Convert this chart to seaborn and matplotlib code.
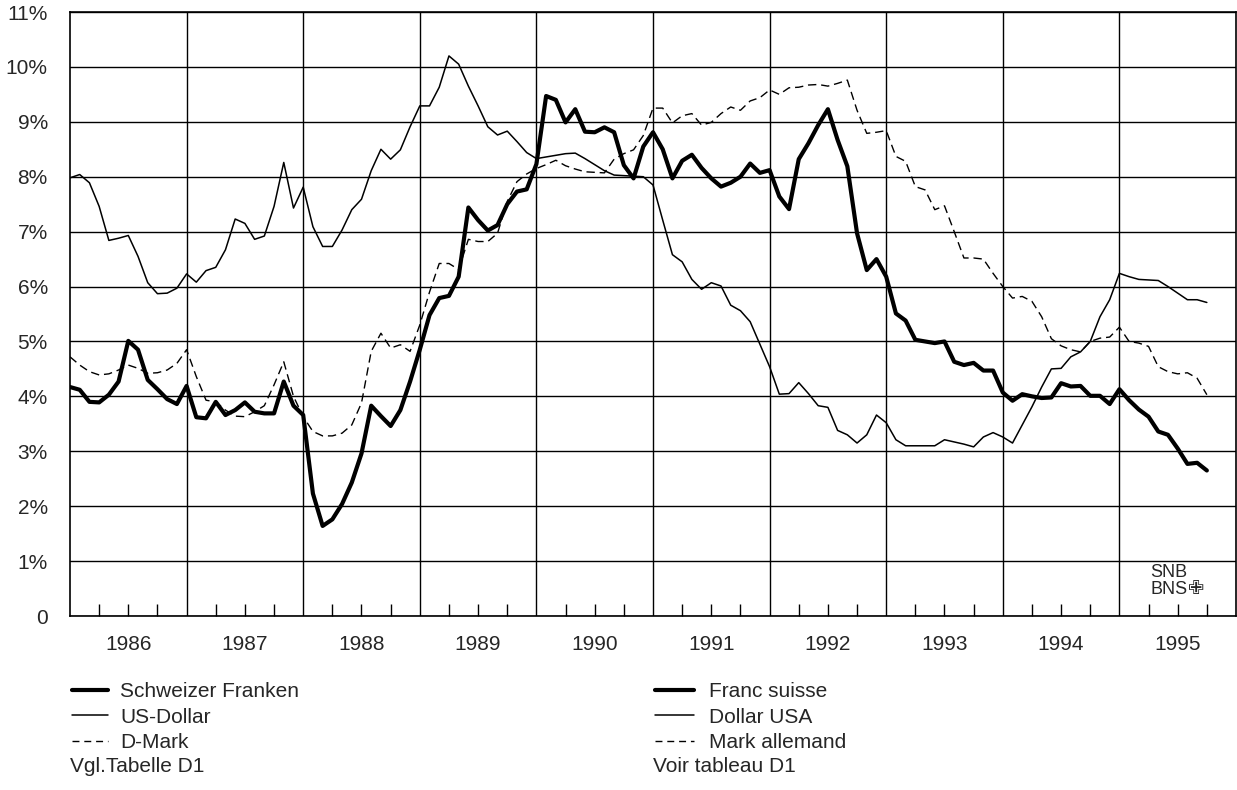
import numpy as np
import pandas as pd
import matplotlib
matplotlib.use("Agg")
import matplotlib.pyplot as plt
from matplotlib.lines import Line2D
import seaborn as sns

# monthly values, Jan 1986 .. Oct 1995 (percent)
start_year = 1986
chf = [4.17, 4.12, 3.90, 3.89, 4.03, 4.27, 5.01, 4.85, 4.30, 4.13, 3.95, 3.86,
       4.19, 3.62, 3.60, 3.90, 3.66, 3.75, 3.89, 3.72, 3.69, 3.69, 4.27, 3.83,
       3.66, 2.23, 1.64, 1.76, 2.04, 2.43, 2.96, 3.83, 3.64, 3.46, 3.75, 4.27,
       4.85, 5.48, 5.79, 5.83, 6.18, 7.44, 7.21, 7.02, 7.12, 7.50, 7.73, 7.77,
       8.23, 9.47, 9.40, 8.99, 9.23, 8.82, 8.81, 8.90, 8.81, 8.21, 7.97, 8.55,
       8.81, 8.50, 7.97, 8.29, 8.40, 8.16, 7.97, 7.82, 7.89, 8.00, 8.24, 8.07,
       8.12, 7.64, 7.41, 8.32, 8.61, 8.94, 9.23, 8.67, 8.19, 6.97, 6.30, 6.50,
       6.18, 5.51, 5.38, 5.03, 5.00, 4.97, 5.00, 4.63, 4.57, 4.61, 4.47, 4.47,
       4.07, 3.92, 4.04, 4.00, 3.97, 3.98, 4.24, 4.18, 4.19, 4.01, 4.01, 3.86,
       4.13, 3.93, 3.76, 3.63, 3.36, 3.30, 3.05, 2.77, 2.79, 2.65]
usd = [7.98, 8.04, 7.89, 7.46, 6.84, 6.88, 6.93, 6.55, 6.07, 5.87, 5.88, 5.97,
       6.23, 6.08, 6.29, 6.35, 6.67, 7.23, 7.15, 6.86, 6.92, 7.46, 8.26, 7.43,
       7.81, 7.09, 6.73, 6.73, 7.03, 7.40, 7.59, 8.11, 8.50, 8.32, 8.49, 8.91,
       9.29, 9.29, 9.63, 10.20, 10.05, 9.65, 9.29, 8.91, 8.76, 8.83, 8.64, 8.44,
       8.33, 8.36, 8.39, 8.42, 8.43, 8.33, 8.22, 8.11, 8.03, 8.02, 8.01, 8.00,
       7.85, 7.21, 6.58, 6.45, 6.13, 5.95, 6.07, 6.01, 5.66, 5.56, 5.36, 4.95,
       4.54, 4.04, 4.05, 4.25, 4.05, 3.83, 3.80, 3.38, 3.30, 3.15, 3.30, 3.66,
       3.52, 3.21, 3.10, 3.10, 3.10, 3.10, 3.21, 3.17, 3.13, 3.08, 3.26, 3.34,
       3.26, 3.15, 3.48, 3.81, 4.17, 4.50, 4.51, 4.72, 4.81, 5.00, 5.45, 5.76,
       6.24, 6.18, 6.13, 6.12, 6.11, 6.00, 5.88, 5.76, 5.76, 5.71]
dem = [4.72, 4.57, 4.45, 4.39, 4.41, 4.48, 4.57, 4.51, 4.42, 4.43, 4.48, 4.60,
       4.85, 4.36, 3.93, 3.90, 3.75, 3.64, 3.63, 3.72, 3.83, 4.21, 4.63, 4.00,
       3.63, 3.36, 3.28, 3.28, 3.33, 3.48, 3.88, 4.82, 5.15, 4.88, 4.94, 4.82,
       5.30, 5.90, 6.42, 6.42, 6.31, 6.86, 6.82, 6.82, 6.97, 7.55, 7.91, 8.05,
       8.15, 8.22, 8.30, 8.20, 8.14, 8.09, 8.08, 8.07, 8.32, 8.42, 8.49, 8.75,
       9.25, 9.25, 8.98, 9.11, 9.15, 8.94, 8.99, 9.15, 9.27, 9.21, 9.38, 9.44,
       9.58, 9.50, 9.62, 9.63, 9.67, 9.68, 9.65, 9.70, 9.76, 9.21, 8.79, 8.81,
       8.84, 8.37, 8.28, 7.82, 7.76, 7.40, 7.47, 7.00, 6.52, 6.52, 6.50, 6.24,
       6.00, 5.79, 5.82, 5.73, 5.45, 5.05, 4.92, 4.85, 4.81, 5.00, 5.06, 5.08,
       5.26, 5.00, 4.97, 4.91, 4.54, 4.45, 4.41, 4.43, 4.33, 4.03]

years = list(range(1986, 1996))
y_ticks = list(range(0, 12))
y_labels = ['0'] + [f'{v}%' for v in range(1, 12)]
labels_de = ['Schweizer Franken', 'US-Dollar', 'D-Mark']
labels_fr = ['Franc suisse', 'Dollar USA', 'Mark allemand']
note_de = 'Vgl.Tabelle D1'
note_fr = 'Voir tableau D1'

t = start_year + np.arange(len(chf)) / 12
df = pd.DataFrame({'t': t, 'chf': chf, 'usd': usd, 'dem': dem})

sns.set_style('white')
plt.rcParams['font.family'] = ['Liberation Sans', 'DejaVu Sans']

W, H = 1237, 790
fig = plt.figure(figsize=(W / 100, H / 100), dpi=100)
ax = fig.add_axes([70 / W, 1 - 616 / H, 1166 / W, 604 / H])

dash = (0, (6, 3.5))
sns.lineplot(data=df, x='t', y='usd', color='black', lw=1.1, ax=ax)
sns.lineplot(data=df, x='t', y='dem', color='black', lw=1.0, linestyle=dash, ax=ax)
sns.lineplot(data=df, x='t', y='chf', color='black', lw=3.0, ax=ax)

ax.set_xlim(years[0], years[-1] + 1)
ax.set_ylim(0, 11)
ax.set_xlabel('')
ax.set_ylabel('')

# grid: every percent, every year boundary
ax.set_yticks(y_ticks)
ax.set_yticklabels(y_labels, fontsize=15)
ax.grid(axis='y', color='black', lw=1.0)
for y in years[1:]:
    ax.axvline(y, color='black', lw=1.0, zorder=1)

ax.set_xticks([y + 0.5 for y in years])
ax.set_xticklabels([str(y) for y in years], fontsize=15)
ax.set_xticks([y + q for y in years for q in (0.25, 0.75)], minor=True)
ax.tick_params(axis='x', which='both', direction='in', length=9, width=1.0,
               color='black', pad=14, bottom=True)
ax.tick_params(axis='y', length=0, pad=16)
for s in ax.spines.values():
    s.set_color('black')
    s.set_linewidth(1.2)
ax.set_axisbelow(True)

# legends (German left, French right)
handles = [Line2D([], [], color='black', lw=3.0),
           Line2D([], [], color='black', lw=1.1),
           Line2D([], [], color='black', lw=1.0, linestyle=(0, (5, 3.5)))]
for x0, labs, note, hl, pad in [(72, labels_de, note_de, 1.75, 0.55),
                                (655, labels_fr, note_fr, 1.85, 0.75)]:
    fig.legend(handles, labs, loc='upper left', bbox_to_anchor=(x0 / W, 1 - 682 / H),
               frameon=False, fontsize=15, handlelength=hl, handletextpad=pad,
               labelspacing=0.32, borderpad=0, borderaxespad=0)
    fig.text((x0 - 2) / W, 1 - 767 / H, note, fontsize=15, va='center', ha='left')

# SNB / BNS mark
fig.text(1150 / W, 1 - 581 / H, 'SNB\nBNS', fontsize=13, va='center', ha='left',
         linespacing=0.95)
fig.text(1188 / W, 1 - 589 / H, '\u2719', fontsize=14, va='center', ha='left',
         family='DejaVu Sans')

fig.savefig('out.png', dpi=100)
